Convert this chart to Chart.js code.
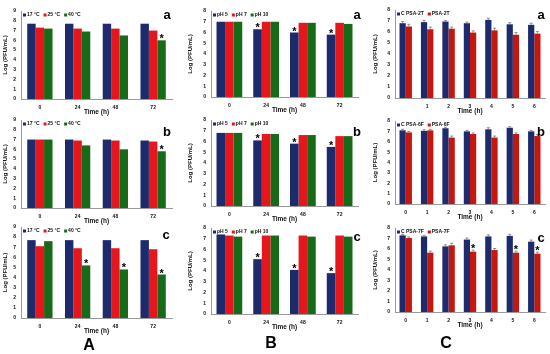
<!DOCTYPE html>
<html>
<head>
<meta charset="utf-8">
<script src="https://cdn.jsdelivr.net/npm/chart.js@4/dist/chart.umd.min.js"></script>
<style>
    body { margin: 0; background: #fff; }
    #fig { position: relative; width: 550px; height: 354px; overflow: hidden; font-family: "Liberation Sans", Arial, sans-serif; }
    #fig canvas { position: absolute; }
    .tag { position: absolute; font-weight: bold; color: #000; transform: translate(-50%, -50%); line-height: 1; }
    .small { font-size: 13px; }
    .big { font-size: 16px; }
</style>
</head>
<body>
<div id="fig"></div>
<script>
// tick labels
const hoursAB = ['0', '24', '48', '72'];
const hoursC = ['0', '1', '2', '3', '4', '5', '6'];
const hoursCa = ['', '1', '2', '3', '4', '5', '6'];

const tempLabels = ['17 °C', '25 °C', '40 °C'];
const phLabels = ['pH 5', 'pH 7', 'pH 10'];

// A: temperature, log PFU/mL
const aa17 = [7.7, 7.7, 7.7, 7.7];
const aa25 = [7.3, 7.2, 7.2, 7.0];
const aa40 = [7.2, 6.9, 6.5, 6.0];
const aaStar40 = [0, 0, 0, 1];

const ab17 = [7.0, 7.0, 7.0, 6.9];
const ab25 = [7.0, 6.9, 6.9, 6.8];
const ab40 = [7.0, 6.4, 6.0, 5.8];
const abStar40 = [0, 0, 0, 1];

const ac17 = [7.7, 7.7, 7.7, 7.7];
const ac25 = [7.1, 6.9, 6.9, 6.8];
const ac40 = [7.6, 5.2, 4.8, 4.3];
const acStar40 = [0, 1, 1, 1];

// B: pH
const ba5 = [7.0, 6.3, 6.0, 5.8];
const ba7 = [7.0, 7.0, 6.9, 6.9];
const ba10 = [7.0, 7.0, 6.9, 6.8];
const baStar5 = [0, 1, 1, 1];

const bb5 = [6.8, 6.1, 5.8, 5.5];
const bb7 = [6.8, 6.7, 6.6, 6.5];
const bb10 = [6.8, 6.7, 6.6, 6.5];
const bbStar5 = [0, 1, 1, 1];

const bc5 = [7.4, 5.1, 4.1, 3.8];
const bc7 = [7.3, 7.3, 7.3, 7.3];
const bc10 = [7.2, 7.3, 7.2, 7.2];
const bcStar5 = [0, 1, 1, 1];

// C: control vs treated, with error bars
const caCtrl = [6.8, 6.9, 6.95, 6.8, 7.1, 6.7, 6.65];
const caCtrlErr = [0.15, 0.15, 0.1, 0.1, 0.15, 0.15, 0.15];
const caPsa = [6.5, 6.25, 6.3, 5.95, 6.15, 5.75, 5.85];
const caPsaErr = [0.2, 0.2, 0.15, 0.15, 0.2, 0.2, 0.2];

const cbCtrl = [7.1, 7.05, 7.3, 7.0, 7.2, 7.35, 7.0];
const cbCtrlErr = [0.1, 0.1, 0.1, 0.1, 0.15, 0.1, 0.1];
const cbPsa = [6.9, 7.1, 6.4, 6.75, 6.4, 6.75, 6.55];
const cbPsaErr = [0.1, 0.1, 0.15, 0.1, 0.15, 0.1, 0.15];

const ccCtrl = [7.3, 7.2, 6.25, 6.9, 7.2, 7.25, 6.7];
const ccCtrlErr = [0.1, 0.1, 0.15, 0.15, 0.15, 0.15, 0.15];
const ccPsa = [7.05, 5.65, 6.35, 5.75, 5.9, 5.65, 5.55];
const ccPsaErr = [0.1, 0.15, 0.2, 0.15, 0.15, 0.15, 0.15];
const ccStarPsa = [0, 0, 0, 1, 0, 1, 1];

const NAVY = '#1d2a6c';
const RED = '#e5161c';
const GREEN = '#176a17';
const DARKRED = '#c4170f';

const FONT = '"Liberation Sans", Arial, sans-serif';

// plot rectangles per column/row (px on the page)
const COLS = [
    { left: 0, plotL: 21, plotR: 172 },
    { left: 185, plotL: 211, plotR: 358 },
    { left: 370, plotL: 395, plotR: 545 }
];

const panels = [
    { col: 0, t: 11, b: 99, max: 9, labels: hoursAB, pct: 0.67, sets: [
        { label: tempLabels[0], data: aa17, color: NAVY },
        { label: tempLabels[1], data: aa25, color: RED },
        { label: tempLabels[2], data: aa40, color: GREEN, stars: aaStar40 }] },
    { col: 0, t: 120, b: 208, max: 9, labels: hoursAB, pct: 0.67, sets: [
        { label: tempLabels[0], data: ab17, color: NAVY },
        { label: tempLabels[1], data: ab25, color: RED },
        { label: tempLabels[2], data: ab40, color: GREEN, stars: abStar40 }] },
    { col: 0, t: 227, b: 318, max: 9, labels: hoursAB, pct: 0.67, sets: [
        { label: tempLabels[0], data: ac17, color: NAVY },
        { label: tempLabels[1], data: ac25, color: RED },
        { label: tempLabels[2], data: ac40, color: GREEN, stars: acStar40 }] },
    { col: 1, t: 11, b: 97, max: 8, labels: hoursAB, pct: 0.7, sets: [
        { label: phLabels[0], data: ba5, color: NAVY, stars: baStar5 },
        { label: phLabels[1], data: ba7, color: RED },
        { label: phLabels[2], data: ba10, color: GREEN }] },
    { col: 1, t: 120, b: 206, max: 8, labels: hoursAB, pct: 0.7, sets: [
        { label: phLabels[0], data: bb5, color: NAVY, stars: bbStar5 },
        { label: phLabels[1], data: bb7, color: RED },
        { label: phLabels[2], data: bb10, color: GREEN }] },
    { col: 1, t: 228, b: 314, max: 8, labels: hoursAB, pct: 0.7, sets: [
        { label: phLabels[0], data: bc5, color: NAVY, stars: bcStar5 },
        { label: phLabels[1], data: bc7, color: RED },
        { label: phLabels[2], data: bc10, color: GREEN }] },
    { col: 2, t: 10, b: 98, max: 8, labels: hoursCa, pct: 0.58, sets: [
        { label: 'C PSA-2T', data: caCtrl, err: caCtrlErr, color: NAVY },
        { label: 'PSA-2T', data: caPsa, err: caPsaErr, color: DARKRED }] },
    { col: 2, t: 121, b: 204, max: 8, labels: hoursC, pct: 0.58, sets: [
        { label: 'C PSA-6F', data: cbCtrl, err: cbCtrlErr, color: NAVY },
        { label: 'PSA-6F', data: cbPsa, err: cbPsaErr, color: DARKRED }] },
    { col: 2, t: 228, b: 312, max: 8, labels: hoursC, pct: 0.58, sets: [
        { label: 'C PSA-7F', data: ccCtrl, err: ccCtrlErr, color: NAVY },
        { label: 'PSA-7F', data: ccPsa, err: ccPsaErr, color: DARKRED, stars: ccStarPsa }] }
];

const tags = [
    ['a', 167, 14, 'small'], ['b', 167, 131, 'small'], ['c', 166, 234, 'small'],
    ['a', 357, 14, 'small'], ['b', 357, 131, 'small'], ['c', 357, 236, 'small'],
    ['a', 541, 14, 'small'], ['b', 541, 131, 'small'], ['c', 541, 237, 'small'],
    ['A', 89, 345, 'big'], ['B', 271, 343, 'big'], ['C', 446, 343, 'big']
];

const PAD_TOP = 9;
const X_AXIS_H = 17;

// error bars, asterisks and the small legend inside the plot
const extrasPlugin = {
    id: 'extras',
    afterDatasetsDraw (chart) {
        const { ctx, chartArea, scales } = chart;

        chart.data.datasets.forEach((ds, di) => {
            const meta = chart.getDatasetMeta(di);

            meta.data.forEach((bar, i) => {
                let topY = bar.y;

                if (ds.err) {
                    const yTop = scales.y.getPixelForValue(ds.data[i] + ds.err[i]);

                    ctx.save();
                    ctx.strokeStyle = '#777';
                    ctx.lineWidth = 0.8;
                    ctx.beginPath();
                    ctx.moveTo(bar.x, bar.y);
                    ctx.lineTo(bar.x, yTop);
                    ctx.moveTo(bar.x - 1.5, yTop);
                    ctx.lineTo(bar.x + 1.5, yTop);
                    ctx.stroke();
                    ctx.restore();
                    topY = yTop;
                }

                if (ds.stars && ds.stars[i]) {
                    ctx.save();
                    ctx.fillStyle = '#000';
                    ctx.font = 'bold 11px ' + FONT;
                    ctx.textAlign = 'center';
                    ctx.textBaseline = 'alphabetic';
                    ctx.fillText('*', bar.x, topY + 2);
                    ctx.restore();
                }
            });
        });

        // legend
        ctx.save();
        ctx.font = 'bold 5px ' + FONT;
        ctx.textBaseline = 'middle';
        let x = chartArea.left + 2;
        const y = chartArea.top + 4;

        chart.data.datasets.forEach(ds => {
            ctx.fillStyle = ds.backgroundColor;
            ctx.fillRect(x, y - 1.5, 3, 3);
            x += 4;
            ctx.fillStyle = '#111';
            ctx.fillText(ds.label, x, y);
            x += ctx.measureText(ds.label).width + 4;
        });
        ctx.restore();
    }
};

function createPanel (p) {
    const col = COLS[p.col];
    const canvas = document.createElement('canvas');
    const width = col.plotR + 4 - col.left;
    const height = p.b - p.t + PAD_TOP + X_AXIS_H;

    canvas.width = width;
    canvas.height = height;
    canvas.style.left = col.left + 'px';
    canvas.style.top = (p.t - PAD_TOP) + 'px';
    document.getElementById('fig').appendChild(canvas);

    return new Chart(canvas, {
        type: 'bar',
        data: {
            labels: p.labels,
            datasets: p.sets.map(s => ({
                label: s.label,
                data: s.data,
                err: s.err,
                stars: s.stars,
                backgroundColor: s.color,
                borderWidth: 0,
                barPercentage: 1,
                categoryPercentage: p.pct
            }))
        },
        options: {
            responsive: false,
            animation: false,
            devicePixelRatio: 1,
            layout: { padding: { top: PAD_TOP, right: 4, left: 0, bottom: 0 } },
            plugins: {
                legend: { display: false },
                tooltip: { enabled: false }
            },
            scales: {
                x: {
                    grid: { display: false, drawTicks: false, tickLength: 0 },
                    border: { display: true, color: '#9a9a9a', width: 1 },
                    ticks: { font: { family: FONT, size: 5, weight: 'bold' }, color: '#111', padding: 6, maxRotation: 0 },
                    title: { display: true, text: 'Time (h)', font: { family: FONT, size: 6.5, weight: 'bold' }, color: '#111', padding: 0 },
                    afterFit: scale => { scale.height = X_AXIS_H; }
                },
                y: {
                    min: 0,
                    max: p.max,
                    grid: { display: false, drawTicks: false, tickLength: 0 },
                    border: { display: true, color: '#9a9a9a', width: 1 },
                    ticks: { stepSize: 1, font: { family: FONT, size: 5, weight: 'bold' }, color: '#111', padding: 5 },
                    title: { display: true, text: 'Log (PFU/mL)', font: { family: FONT, size: 6, weight: 'bold' }, color: '#111', padding: { top: 2, bottom: 2 } },
                    afterFit: scale => { scale.width = col.plotL - col.left; }
                }
            }
        },
        plugins: [extrasPlugin]
    });
}

panels.forEach(createPanel);

tags.forEach(([text, x, y, cls]) => {
    const el = document.createElement('div');

    el.className = 'tag ' + cls;
    el.textContent = text;
    el.style.left = x + 'px';
    el.style.top = y + 'px';
    document.getElementById('fig').appendChild(el);
});
</script>
</body>
</html>
